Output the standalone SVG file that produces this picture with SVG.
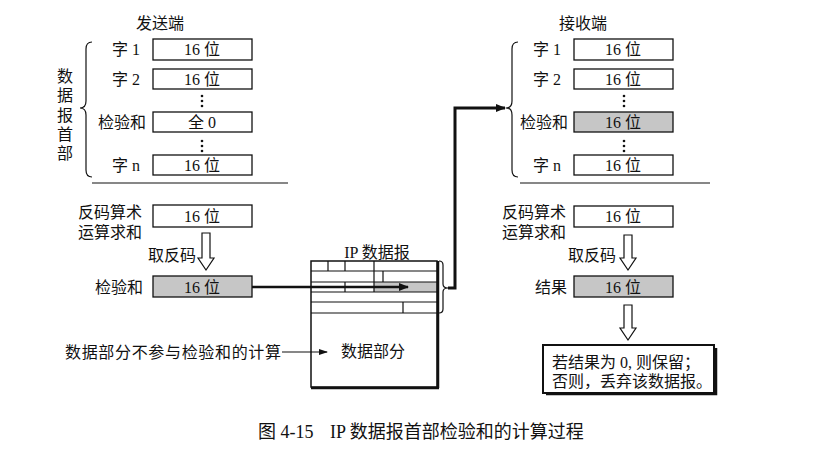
<svg xmlns="http://www.w3.org/2000/svg" width="814" height="449" viewBox="0 0 814 449">
<style>
text{font-family:"Liberation Serif","Noto Sans CJK SC",serif;font-size:16px;fill:#111}
.c{text-anchor:middle}
.box{fill:#fff;stroke:#111;stroke-width:1.3}
.gbox{fill:#c6c6c6;stroke:#111;stroke-width:1.3}
.ln{fill:none;stroke:#111;stroke-width:1.2}
.hol{fill:#fff;stroke:#111;stroke-width:1.2;stroke-linejoin:miter}
.dot{fill:#111}
</style>
<defs>
<marker id="ah" markerWidth="10" markerHeight="8" refX="9" refY="4" orient="auto" markerUnits="userSpaceOnUse">
<path d="M0,0 L10,4 L0,8 Z" fill="#111"/>
</marker>
<marker id="ahs" markerWidth="9" markerHeight="6" refX="8" refY="3" orient="auto" markerUnits="userSpaceOnUse">
<path d="M0,0 L9,3 L0,6 Z" fill="#111"/>
</marker>
</defs>

<rect width="814" height="449" fill="#fff"/>

<!-- Sender -->
<g id="sender-header">
<text class="c" x="160" y="29">发送端</text>
<text class="c" x="65" y="82">数</text>
<text class="c" x="65" y="101">据</text>
<text class="c" x="65" y="121">报</text>
<text class="c" x="65" y="140">首</text>
<text class="c" x="65" y="159">部</text>
<path class="ln" d="M92,42 Q86,42 86,49 L86,101 Q86,108 80,108 Q86,108 86,115 L86,170 Q86,177 92,177"/>
<text x="112" y="55">字 1</text>
<rect class="box" x="153" y="39" width="99" height="21"/>
<text class="c" x="202" y="55">16 位</text>
<text x="112" y="85">字 2</text>
<rect class="box" x="153" y="69" width="99" height="20"/>
<text class="c" x="202" y="85">16 位</text>
<circle class="dot" cx="202" cy="96" r="1.3"/><circle class="dot" cx="202" cy="101" r="1.3"/><circle class="dot" cx="202" cy="106" r="1.3"/>
<text x="98" y="128">检验和</text>
<rect class="box" x="153" y="112" width="99" height="20"/>
<text class="c" x="202" y="128">全 0</text>
<circle class="dot" cx="202" cy="141" r="1.3"/><circle class="dot" cx="202" cy="146" r="1.3"/><circle class="dot" cx="202" cy="151" r="1.3"/>
<text x="112" y="171">字 n</text>
<rect class="box" x="153" y="155" width="99" height="20"/>
<text class="c" x="202" y="171">16 位</text>
<line class="ln" x1="92" y1="183" x2="288" y2="183"/>
</g>

<g id="sender-sum">
<text x="78" y="218">反码算术</text>
<text x="78" y="238">运算求和</text>
<rect class="box" x="153" y="205" width="99" height="22"/>
<text class="c" x="202" y="222">16 位</text>
<path class="hol" d="M202,233 L210,233 L210,258 L214,258 L206,270 L198,258 L202,258 Z"/>
<text x="148" y="261">取反码</text>
</g>

<g id="sender-checksum">
<text x="95" y="293">检验和</text>
<rect class="gbox" x="153" y="276" width="99" height="21"/>
<text class="c" x="202" y="293">16 位</text>
</g>

<g id="data-note">
<text x="65" y="358" textLength="216" lengthAdjust="spacing">数据部分不参与检验和的计算</text>
</g>

<!-- IP datagram -->
<g id="ip-datagram">
<text class="c" x="377" y="258">IP 数据报</text>
<rect x="374" y="282" width="63" height="10" fill="#c6c6c6"/>
<rect x="311" y="261" width="126" height="126" fill="none" stroke="#111" stroke-width="1.5"/>
<path d="M438,261 L438,388 M311,388 L439,388" fill="none" stroke="#111" stroke-width="2.5"/>
<path class="ln" d="M311,271 H437 M311,282 H437 M311,292 H437 M311,302 H437 M311,313 H437"/>
<path class="ln" d="M328,261 V271 M345,261 V271 M374,261 V271 M374,271 V282 M383,271 V282 M345,282 V292 M374,282 V292 M403,302 V313"/>
<text class="c" x="373" y="357">数据部分</text>
<path class="ln" d="M439,261 Q443,261 443,265 L443,284 Q443,288 448,288 Q443,288 443,292 L443,309 Q443,313 439,313"/>
</g>

<!-- Receiver -->
<g id="receiver-header">
<text class="c" x="583" y="29">接收端</text>
<path class="ln" d="M518,42 Q512,42 512,49 L512,101 Q512,108 506,108 Q512,108 512,115 L512,170 Q512,177 518,177"/>
<text x="533" y="55">字 1</text>
<rect class="box" x="574" y="39" width="99" height="21"/>
<text class="c" x="623" y="55">16 位</text>
<text x="533" y="85">字 2</text>
<rect class="box" x="574" y="69" width="99" height="20"/>
<text class="c" x="623" y="85">16 位</text>
<circle class="dot" cx="624" cy="96" r="1.3"/><circle class="dot" cx="624" cy="101" r="1.3"/><circle class="dot" cx="624" cy="106" r="1.3"/>
<text x="520" y="128">检验和</text>
<rect class="gbox" x="574" y="112" width="99" height="20"/>
<text class="c" x="623" y="128">16 位</text>
<circle class="dot" cx="624" cy="141" r="1.3"/><circle class="dot" cx="624" cy="146" r="1.3"/><circle class="dot" cx="624" cy="151" r="1.3"/>
<text x="533" y="171">字 n</text>
<rect class="box" x="574" y="155" width="99" height="20"/>
<text class="c" x="623" y="171">16 位</text>
<line class="ln" x1="520" y1="183" x2="710" y2="183"/>
</g>

<g id="receiver-sum">
<text x="502" y="218">反码算术</text>
<text x="502" y="238">运算求和</text>
<rect class="box" x="574" y="206" width="99" height="21"/>
<text class="c" x="623" y="222">16 位</text>
<path class="hol" d="M624,235 L632,235 L632,258 L636,258 L628,270 L620,258 L624,258 Z"/>
<text x="568" y="261">取反码</text>
</g>

<g id="receiver-result">
<text x="535" y="293">结果</text>
<rect class="gbox" x="574" y="276" width="99" height="21"/>
<text class="c" x="623" y="293">16 位</text>
<path class="hol" d="M624,305 L632,305 L632,328 L636,328 L628,340 L620,328 L624,328 Z"/>
</g>

<g id="decision">
<path d="M546,394 L716,394 L716,348" fill="none" stroke="#111" stroke-width="2.5"/>
<rect x="543" y="345" width="171" height="48" fill="#fff" stroke="#111" stroke-width="2"/>
<text x="552" y="368">若结果为 0, 则保留；</text>
<text x="552" y="387">否则，丢弃该数据报。</text>
</g>

<!-- connectors -->
<g id="connectors">
<line x1="282" y1="352" x2="327" y2="352" stroke="#111" stroke-width="1.2" marker-end="url(#ahs)"/>
<line x1="252" y1="287" x2="408" y2="287" stroke="#111" stroke-width="2.5" marker-end="url(#ah)"/>
<path d="M448,288 L455,288 L455,108 L505,108" fill="none" stroke="#111" stroke-width="3" marker-end="url(#ah)"/>
</g>

<g id="caption">
<text x="258" y="438" style="font-size:18px">图 4-15</text>
<text x="330" y="438" style="font-size:18px">IP 数据报首部检验和的计算过程</text>
</g>
</svg>
